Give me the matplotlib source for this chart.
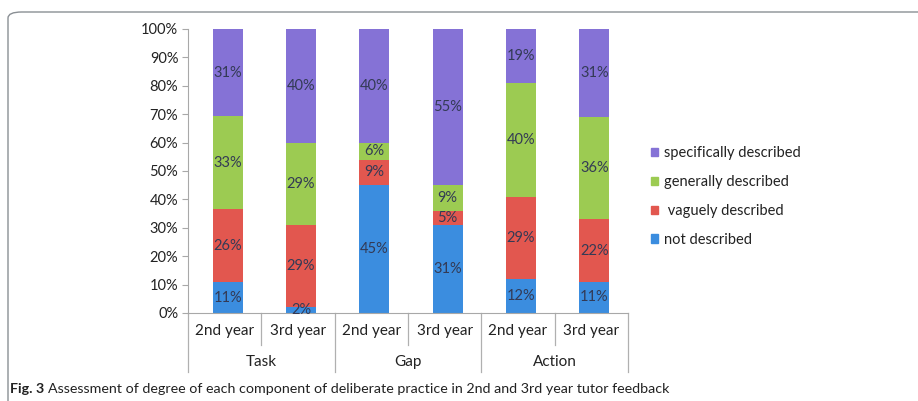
import matplotlib
matplotlib.use("Agg")
import matplotlib.pyplot as plt
from matplotlib.patches import Patch, FancyBboxPatch
import numpy as np

groups = ["Task", "Gap", "Action"]
years = ["2nd year", "3rd year"]
series = ["not described", "vaguely described", "generally described", "specifically described"]
not_described = [11, 2, 45, 31, 12, 11]
vaguely = [26, 29, 9, 5, 29, 22]
generally = [33, 29, 6, 9, 40, 36]
specifically = [31, 40, 40, 55, 19, 31]
colors = ["#3b8ddf", "#e2574f", "#9ccb52", "#8572d6"]

plt.rcParams["font.family"] = ["Lato", "DejaVu Sans"]
fig = plt.figure(figsize=(9.18, 4.01), dpi=100)
ax = fig.add_axes([188 / 918, 1 - 313 / 401, 440 / 918, 284 / 401])

data = np.array([not_described, vaguely, generally, specifically], dtype=float)
totals = data.sum(axis=0)
pct = data / totals * 100
x = np.arange(len(not_described))
bottom = np.zeros(len(x))
for i in range(len(series)):
    ax.bar(x + 0.04, pct[i], 0.41, bottom=bottom, color=colors[i], label=series[i])
    for j in range(len(x)):
        ax.text(x[j] + 0.04, bottom[j] + pct[i][j] / 2, "%d%%" % data[i][j], ha="center", va="center",
                fontsize=10.5, color="#333a55")
    bottom += pct[i]

ax.set_xlim(-0.5, 5.5)
ax.set_ylim(0, 100)
ax.set_yticks(range(0, 101, 10))
ax.set_yticklabels(["%d%%" % v for v in range(0, 101, 10)], fontsize=10.5, color="#222222")
ax.set_xticks([])
for s in ["top", "right"]:
    ax.spines[s].set_visible(False)
ax.spines["left"].set_color("#a8a8a8")
ax.spines["bottom"].set_color("#a8a8a8")
ax.tick_params(axis="y", length=4, color="#a8a8a8", pad=3)

tr = ax.get_xaxis_transform()
for k in range(len(x) + 1):
    b = k - 0.5
    yend = -0.208 if k % 2 == 0 else -0.113
    ax.plot([b, b], [0, yend], color="#b0b0b0", lw=0.9, transform=tr, clip_on=False)
for j in range(len(x)):
    ax.text(x[j], -0.063, years[j % 2], transform=tr, ha="center", va="center", fontsize=11, color="#222222")
for g in range(len(groups)):
    ax.text(2 * g + 0.5, -0.173, groups[g], transform=tr, ha="center", va="center", fontsize=11, color="#222222")

handles = [Patch(color=colors[i], label=series[i]) for i in range(3, -1, -1)]
labels = ["specifically described", "generally described", " vaguely described", "not described"]
fig.legend(handles, labels, loc="upper left", bbox_to_anchor=(638 / 918, 1 - 133 / 401), frameon=False,
           fontsize=10.5, handlelength=0.5, handleheight=0.5, handletextpad=0.4, labelspacing=1.02,
           labelcolor="#222222")

border = FancyBboxPatch((8 / 918, -0.1), 1.2, 1 - 12 / 401 + 0.1, boxstyle="round,pad=0,rounding_size=0.015",
                        transform=fig.transFigure, fill=False, edgecolor="#8a8f94", lw=1.0)
fig.patches.append(border)

t1 = fig.text(10 / 918, 1 - 389 / 401, "Fig. 3", fontsize=10.3, fontweight="bold", color="#222222", va="center")
fig.canvas.draw()
bb = t1.get_window_extent()
fig.text(bb.x1 / 918 + 4 / 918, 1 - 389 / 401,
         "Assessment of degree of each component of deliberate practice in 2nd and 3rd year tutor feedback",
         fontsize=10.3, color="#222222", va="center")

fig.savefig("out.png", dpi=100)
